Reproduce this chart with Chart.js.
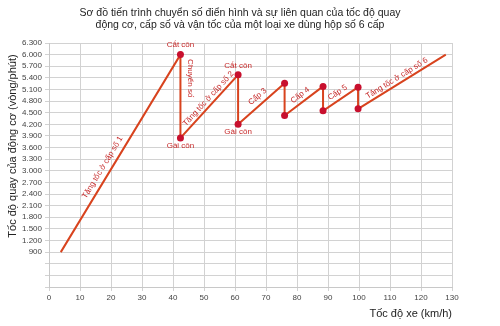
<!DOCTYPE html>
<html>
<head>
<meta charset="utf-8">
<script src="https://cdn.jsdelivr.net/npm/chart.js@4/dist/chart.umd.min.js"></script>
<style>
html, body { margin: 0; padding: 0; background: #fff; }
#wrap { position: relative; width: 500px; height: 326px; }
#title { position: absolute; left: 0; top: 7px; width: 480px; text-align: center;
  font: 10.5px/11.5px 'Liberation Sans', Arial, sans-serif; color: #222; }
</style>
</head>
<body>
<div id="wrap">
  <div id="title">Sơ đồ tiến trình chuyển số điển hình và sự liên quan của tốc độ quay<br>động cơ, cấp số và vận tốc của một loại xe dùng hộp số 6 cấp</div>
  <canvas id="chart" width="500" height="326"></canvas>
</div>
<script>
// vehicle speed (km/h) and engine rpm along the shift sequence
var speeds = [3.8, 42.4, 42.4, 61, 61, 76, 76, 88.4, 88.4, 99.7, 99.7, 128];
var rpms = [900, 6000, 3850, 5480, 4200, 5260, 4430, 5180, 4550, 5160, 4600, 6000];
var shiftDots = [false, true, true, true, true, true, true, true, true, true, true, false];

// notes on the chart: text, where it sits, which segment it follows ('-' flat, 'v' vertical)
var noteTexts = ['Tăng tốc ở cấp số 1', 'Cắt côn', 'Chuyển số', 'Gài côn', 'Tăng tốc ở cấp số 2',
  'Cắt côn', 'Gài côn', 'Cấp 3', 'Cấp 4', 'Cấp 5', 'Tăng tốc ở cấp số 6'];
var noteSpeeds = [17.3, 42.4, 45.4, 42.4, 51.4, 61, 61, 67.3, 81, 93.1, 112.2];
var noteRpms = [3085, 6260, 5390, 3650, 4860, 5700, 4010, 4915, 4950, 5020, 5390];
var noteSegments = [0, '-', 'v', '-', 2, '-', '-', 4, 6, 8, 10];

var yTitle = 'Tốc độ quay của động cơ (vòng/phút)';
var xTitle = 'Tốc độ xe (km/h)';
var firstYLabel = 900;

var FONT = "'Liberation Sans', Arial, sans-serif";

var notesPlugin = {
	id: 'notes',
	afterDatasetsDraw: function(c){
		var ctx = c.ctx, sx = c.scales.x, sy = c.scales.y;
		ctx.save();
		ctx.fillStyle = '#c62828';
		ctx.font = '8px ' + FONT;
		ctx.textAlign = 'center';
		ctx.textBaseline = 'middle';
		noteTexts.forEach(function(t, i){
			var px = sx.getPixelForValue(noteSpeeds[i]);
			var py = sy.getPixelForValue(noteRpms[i]);
			var s = noteSegments[i];
			var a = 0;
			if(s === 'v') a = Math.PI / 2;
			else if(s !== '-'){
				a = Math.atan2(sy.getPixelForValue(rpms[s + 1]) - sy.getPixelForValue(rpms[s]),
					sx.getPixelForValue(speeds[s + 1]) - sx.getPixelForValue(speeds[s]));
			}
			ctx.save();
			ctx.translate(px, py);
			ctx.rotate(a);
			ctx.fillText(t, 0, 0);
			ctx.restore();
		});
		ctx.restore();

		// y axis title, sits a bit above the middle of the axis like the original
		var area = c.chartArea;
		ctx.save();
		ctx.fillStyle = '#222';
		ctx.font = '11px ' + FONT;
		ctx.textAlign = 'center';
		ctx.textBaseline = 'middle';
		ctx.translate(13, (area.top + area.bottom) / 2 - 19);
		ctx.rotate(-Math.PI / 2);
		ctx.fillText(yTitle, 0, 0);
		ctx.restore();
	}
};

var points = speeds.map(function(v, i){ return {x: v, y: rpms[i]}; });

var chart = new Chart(document.getElementById('chart'), {
	type: 'line',
	data: {
		datasets: [{
			data: points,
			borderColor: '#d8431e',
			borderWidth: 2,
			tension: 0,
			pointRadius: shiftDots.map(function(d){ return d ? 3.5 : 0; }),
			pointBackgroundColor: '#c8102e',
			pointBorderWidth: 0,
			fill: false
		}]
	},
	options: {
		responsive: false,
		animation: false,
		layout: { padding: { top: 43, right: 48, left: 0, bottom: 0 } },
		plugins: { legend: { display: false }, tooltip: { enabled: false } },
		scales: {
			x: {
				type: 'linear',
				min: 0, max: 130,
				afterFit: function(s){ s.height = 39; },
				grid: { color: '#d2d2d2', tickLength: 4 },
				border: { color: '#c8c8c8' },
				ticks: { stepSize: 10, autoSkip: false, color: '#444', font: { size: 8, family: FONT }, padding: 2, maxRotation: 0 },
				title: { display: true, text: xTitle, align: 'end', color: '#222',
					font: { size: 11, family: FONT }, padding: { top: 4, bottom: 5 } }
			},
			y: {
				min: 0, max: 6300,
				afterFit: function(s){ s.width = 49; },
				grid: { color: '#d2d2d2', tickLength: 4 },
				border: { color: '#c8c8c8' },
				ticks: {
					stepSize: 300, autoSkip: false, color: '#444', font: { size: 8, family: FONT }, padding: 3,
					callback: function(v){
						if(v < firstYLabel) return '';
						return v.toString().replace(/\B(?=(\d{3})+(?!\d))/g, '.');
					}
				}
			}
		}
	},
	plugins: [notesPlugin]
});
</script>
</body>
</html>
